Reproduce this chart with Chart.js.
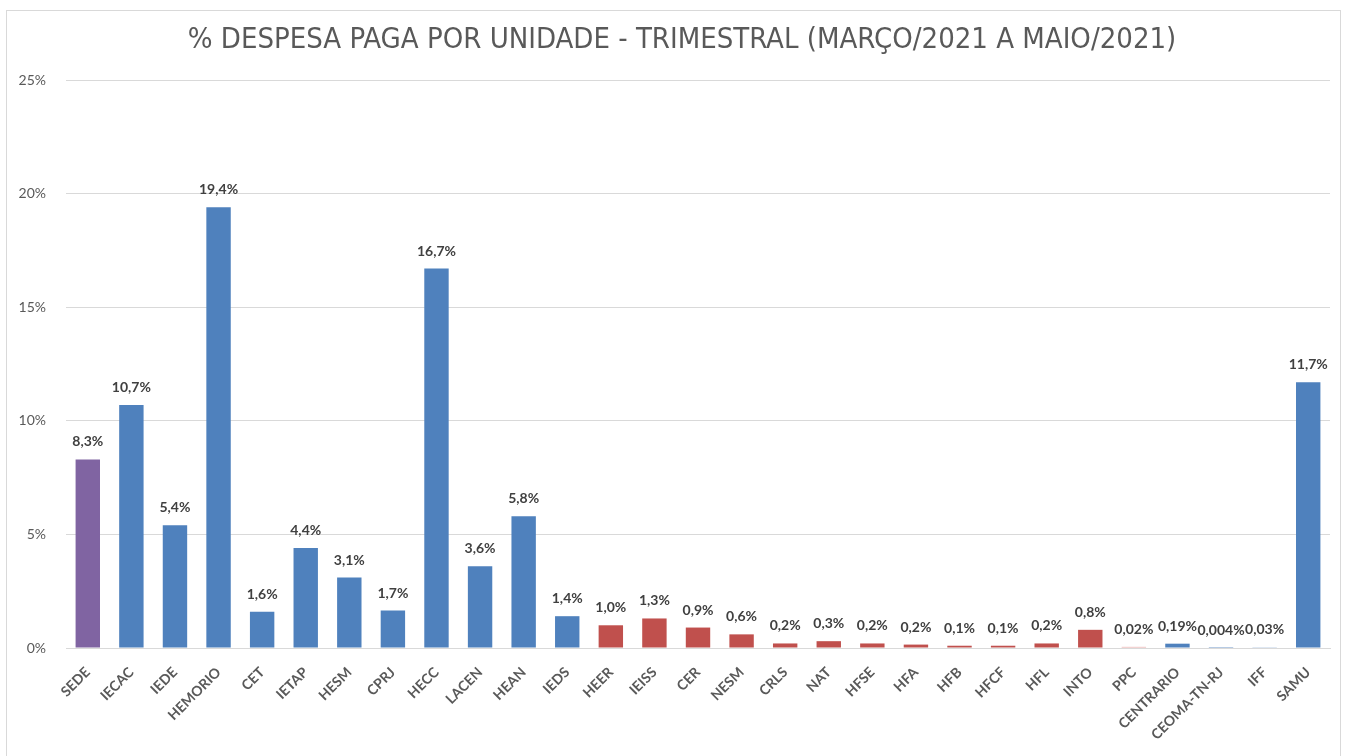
<!DOCTYPE html>
<html>
<head>
<meta charset="utf-8">
<script src="https://cdn.jsdelivr.net/npm/chart.js@4"></script>
<style>
  body { margin: 0; background: #fff; }
  #wrap { position: absolute; left: 6px; top: 10px; width: 1333px; height: 760px; border: 1px solid #d9d9d9; }
  #box { position: absolute; left: 0; top: 0; width: 1353px; height: 756px; }
</style>
</head>
<body>
<div id="wrap"></div>
<div id="box"><canvas id="despesaChart"></canvas></div>
<script>
const titulo = "% DESPESA PAGA POR UNIDADE - TRIMESTRAL (MARÇO/2021 A MAIO/2021)";
const unidades = [
  "SEDE", "IECAC", "IEDE", "HEMORIO", "CET", "IETAP", "HESM", "CPRJ", "HECC", "LACEN",
  "HEAN", "IEDS", "HEER", "IEISS", "CER", "NESM", "CRLS", "NAT", "HFSE", "HFA",
  "HFB", "HFCF", "HFL", "INTO", "PPC", "CENTRARIO", "CEOMA-TN-RJ", "IFF", "SAMU",
];
const percentual = [
  8.3, 10.7, 5.4, 19.4, 1.6, 4.4, 3.1, 1.65, 16.7, 3.6,
  5.8, 1.4, 1.0, 1.3, 0.9, 0.6, 0.2, 0.3, 0.2, 0.15,
  0.1, 0.1, 0.2, 0.8, 0.05, 0.19, 0.004, 0.03, 11.7,
];
const rotulos = [
  "8,3%", "10,7%", "5,4%", "19,4%", "1,6%", "4,4%", "3,1%", "1,7%", "16,7%", "3,6%",
  "5,8%", "1,4%", "1,0%", "1,3%", "0,9%", "0,6%", "0,2%", "0,3%", "0,2%", "0,2%",
  "0,1%", "0,1%", "0,2%", "0,8%", "0,02%", "0,19%", "0,004%", "0,03%", "11,7%",
];
const grupos = [
  "sede", "azul", "azul", "azul", "azul", "azul", "azul", "azul", "azul", "azul",
  "azul", "azul", "verm", "verm", "verm", "verm", "verm", "verm", "verm", "verm",
  "verm", "verm", "verm", "verm", "claro", "azul", "azul", "azul", "azul",
];
const yTicks = [0, 5, 10, 15, 20, 25];

const cores = { sede: "#8064a2", azul: "#4f81bd", verm: "#c0504d", claro: "#e6a6a5" };

// data labels above each bar
const rotuloPlugin = {
  id: "rotulos",
  afterDatasetsDraw(chart) {
    const ctx = chart.ctx;
    const meta = chart.getDatasetMeta(0);
    ctx.save();
    ctx.font = "bold 14px Lato";
    ctx.fillStyle = "#404040";
    ctx.textAlign = "center";
    ctx.textBaseline = "alphabetic";
    meta.data.forEach((bar, i) => {
      ctx.fillText(rotulos[i], bar.x, bar.y - 13);
    });
    ctx.restore();
  },
};

// title, centred on the frame like the original
const tituloPlugin = {
  id: "tituloExcel",
  afterDraw(chart) {
    const ctx = chart.ctx;
    ctx.save();
    ctx.font = "29px 'DejaVu Sans Condensed'";
    ctx.fillStyle = "#595959";
    ctx.textAlign = "center";
    ctx.textBaseline = "middle";
    ctx.fillText(titulo, 682, 40);
    ctx.restore();
  },
};

const ctx = document.getElementById("despesaChart").getContext("2d");

const despesaChart = new Chart(ctx, {
  type: "bar",
  data: {
    labels: unidades,
    datasets: [
      {
        data: percentual,
        backgroundColor: grupos.map((g) => cores[g]),
        categoryPercentage: 1,
        barPercentage: 0.56,
      },
    ],
  },
  plugins: [rotuloPlugin, tituloPlugin],
  options: {
    responsive: true,
    maintainAspectRatio: false,
    animation: false,
    layout: { padding: { left: 6, right: 23, top: 80, bottom: 0 } },
    plugins: {
      legend: { display: false },
      tooltip: { enabled: false },
      title: { display: false },
    },
    scales: {
      x: {
        grid: { display: false },
        border: { color: "#d9d9d9" },
        ticks: {
          color: "#595959",
          font: { family: "Lato", size: 14, weight: "bold" },
          maxRotation: 45,
          minRotation: 45,
          autoSkip: false,
          padding: 8,
        },
        afterFit(axis) { axis.height = 108; },
      },
      y: {
        min: 0,
        max: 25,
        afterBuildTicks(axis) { axis.ticks = yTicks.map((v) => ({ value: v })); },
        grid: { color: "#d9d9d9", drawTicks: false },
        border: { display: false },
        ticks: {
          color: "#595959",
          font: { family: "Lato", size: 14 },
          padding: 20,
          callback: (v) => v + "%",
        },
        afterFit(axis) { axis.width = 60; },
      },
    },
  },
});
</script>
</body>
</html>
